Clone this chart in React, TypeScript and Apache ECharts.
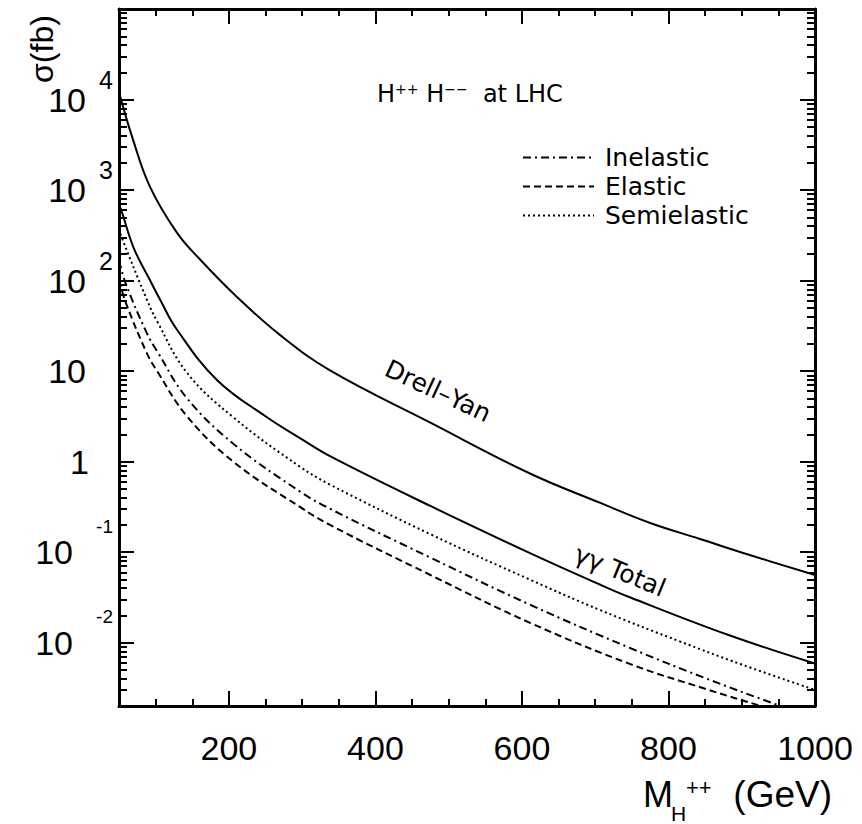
import React, { useEffect, useRef } from 'react';
import * as echarts from 'echarts';

// ---- data (sigma in fb vs M_H++ in GeV) ----
const drellYan: [number, number][] = [
  [50, 12000], [69, 3630], [92, 1100], [129, 339], [161, 170], [211, 66], [270, 25],
  [338, 10.2], [475, 2.7], [611, 0.74], [707, 0.35], [775, 0.21], [843, 0.14], [911, 0.093], [1000, 0.056],
];
const gammaTotal: [number, number][] = [
  [50, 700], [54, 570], [70, 230], [92, 102], [106, 61.7], [129, 28.8], [184, 7.94], [252, 3.09],
  [297, 1.82], [338, 1.15], [475, 0.324], [611, 0.0977], [707, 0.0437], [748, 0.0316], [884, 0.012], [1000, 0.00589],
];
const semielastic: [number, number][] = [
  [50, 372], [54, 295], [88, 61.7], [102, 35.5], [143, 9.55], [206, 3.09], [297, 0.879], [338, 0.558],
  [475, 0.158], [611, 0.0497], [707, 0.0229], [816, 0.0103], [900, 0.00574], [1000, 0.00301],
];
const inelastic: [number, number][] = [
  [50, 166], [60, 89], [88, 26.3], [102, 16.6], [143, 5.0], [206, 1.58], [297, 0.468], [338, 0.302],
  [475, 0.0871], [611, 0.0263], [748, 0.00871], [850, 0.00407], [950, 0.00204], [1000, 0.00148],
];
const elastic: [number, number][] = [
  [50, 100], [60, 55], [88, 15.8], [102, 10], [143, 3.16], [206, 1.0], [297, 0.316], [338, 0.2],
  [475, 0.056], [611, 0.0166], [748, 0.0058], [850, 0.0031], [930, 0.00196], [1000, 0.00135],
];

const legendNames = ['Inelastic', 'Elastic', 'Semielastic'];

// ---- axes ----
const xMin = 50;
const xMax = 1000;
const xMajorTicks = [200, 400, 600, 800, 1000];
const xMinorTicks = [100, 150, 250, 300, 350, 450, 500, 550, 650, 700, 750, 850, 900, 950];
const yMin = 0.002;
const yMax = 100000;
const yMajorTicks = [0.01, 0.1, 1, 10, 100, 1000, 10000];
const yTenLabelsPos = [10, 100, 1000, 10000];
const yOneLabel = [1];
const yTenLabelsNeg = [0.01, 0.1];
const yExpLabelsPos = [100, 1000, 10000];
const yExpLabelsNeg = [0.01, 0.1];
const yMinorMultipliers = [2, 3, 4, 5, 6, 7, 8, 9];
const yDecades = [-3, -2, -1, 0, 1, 2, 3, 4];

const AXIS_FONT = '"Liberation Sans", Arial, Helvetica, sans-serif';
const TEXT_FONT = '"DejaVu Sans", sans-serif';

export default function App() {
  const ref = useRef<HTMLDivElement>(null);

  useEffect(() => {
    if (!ref.current) return;
    const chart = echarts.init(ref.current, undefined, { renderer: 'svg' });

    const yMinorTicks: number[] = [];
    yDecades.forEach((d) => {
      yMinorMultipliers.forEach((m) => {
        const v = m * Math.pow(10, d);
        if (v > yMin && v < yMax) yMinorTicks.push(Number(v.toPrecision(3)));
      });
    });

    const frameLine = { show: true, onZero: false, lineStyle: { color: '#000', width: 3 } };
    const noLine = { show: false };

    const mkX = (position: 'top' | 'bottom', ticks: number[], len: number, line: boolean, labels: boolean) => ({
      type: 'value',
      min: xMin,
      max: xMax,
      position,
      axisLine: line ? frameLine : noLine,
      splitLine: { show: false },
      axisTick: { show: true, inside: true, length: len, customValues: ticks, lineStyle: { color: '#000', width: 2 } },
      axisLabel: labels
        ? {
            show: true,
            customValues: ticks,
            margin: 25,
            fontSize: 34,
            fontFamily: AXIS_FONT,
            color: '#000',
            formatter: (v: number) => String(v),
          }
        : { show: false },
    });

    const mkY = (position: 'left' | 'right', ticks: number[], len: number, line: boolean) => ({
      type: 'log',
      logBase: 10,
      min: yMin,
      max: yMax,
      position,
      axisLine: line ? frameLine : noLine,
      splitLine: { show: false },
      minorTick: { show: false },
      axisTick: len > 0
        ? { show: true, inside: true, length: len, customValues: ticks, lineStyle: { color: '#000', width: 2 } }
        : { show: false },
      axisLabel: { show: false },
    });

    // plain "10" / "1" labels
    const mkYBase = (values: number[], margin: number, text: string) => ({
      ...mkY('left', [], 0, false),
      axisLabel: {
        show: true,
        customValues: values,
        margin,
        fontSize: 34,
        fontFamily: AXIS_FONT,
        color: '#000',
        formatter: () => text,
      },
    });

    // raised exponent labels
    const mkYExp = (values: number[], margin: number, fontSize: number, padBottom: number) => ({
      ...mkY('left', [], 0, false),
      axisLabel: {
        show: true,
        customValues: values,
        margin,
        color: '#000',
        formatter: (v: number) => `{t|${Math.round(Math.log10(v))}}`,
        rich: {
          t: { fontSize, fontFamily: AXIS_FONT, color: '#000', lineHeight: fontSize, padding: [0, 0, padBottom, 0] },
        },
      },
    });

    const lineSeries = (name: string, data: [number, number][], type: any) => ({
      name,
      type: 'line',
      xAxisIndex: 0,
      yAxisIndex: 0,
      data,
      smooth: 0.4,
      symbol: 'none',
      showSymbol: false,
      clip: true,
      lineStyle: { color: '#000', width: 2, type },
      itemStyle: { color: '#000' },
    });

    chart.setOption({
      animation: false,
      backgroundColor: '#fff',
      grid: { left: 119, right: 47, top: 9, bottom: 118, containLabel: false },
      xAxis: [
        mkX('bottom', xMajorTicks, 15, true, true),
        mkX('bottom', xMinorTicks, 7, false, false),
        mkX('top', xMajorTicks, 15, true, false),
        mkX('top', xMinorTicks, 7, false, false),
      ],
      yAxis: [
        mkY('left', yMajorTicks, 15, true),
        mkY('left', yMinorTicks, 8, false),
        mkY('right', yMajorTicks, 15, true),
        mkY('right', yMinorTicks, 8, false),
        mkYBase(yTenLabelsPos, 33, '10'),
        mkYBase(yOneLabel, 30, '1'),
        mkYBase(yTenLabelsNeg, 46, '10'),
        mkYExp(yExpLabelsPos, 6, 25, 40),
        mkYExp(yExpLabelsNeg, 6, 19, 52),
      ],
      legend: {
        data: legendNames,
        orient: 'vertical',
        left: 522,
        top: 145,
        itemWidth: 71,
        itemHeight: 14,
        itemGap: 4,
        padding: 0,
        selectedMode: false,
        itemStyle: { opacity: 0, color: 'rgba(0,0,0,0)', borderColor: 'rgba(0,0,0,0)', borderWidth: 0 },
        textStyle: { fontFamily: TEXT_FONT, fontSize: 25, color: '#000', lineHeight: 25, padding: [0, 0, 0, 6] },
      },
      series: [
        lineSeries('Drell-Yan', drellYan, 'solid'),
        lineSeries('γγ Total', gammaTotal, 'solid'),
        lineSeries('Inelastic', inelastic, [8, 4, 2, 4]),
        lineSeries('Elastic', elastic, [7, 4]),
        lineSeries('Semielastic', semielastic, [2, 3]),
      ],
      graphic: [
        {
          type: 'text',
          x: 42,
          y: 49,
          rotation: Math.PI / 2,
          style: { text: 'σ(fb)', font: `32px ${AXIS_FONT}`, fill: '#000', align: 'center', verticalAlign: 'middle' },
        },
        {
          type: 'text',
          x: 643,
          y: 794,
          style: { text: 'M', font: `36px ${AXIS_FONT}`, fill: '#000', align: 'left', verticalAlign: 'middle' },
        },
        {
          type: 'text',
          x: 671,
          y: 813,
          style: { text: 'H', font: `21px ${AXIS_FONT}`, fill: '#000', align: 'left', verticalAlign: 'middle' },
        },
        {
          type: 'text',
          x: 686,
          y: 787,
          style: { text: '++', font: `22px ${AXIS_FONT}`, fill: '#000', align: 'left', verticalAlign: 'middle' },
        },
        {
          type: 'text',
          x: 832,
          y: 794,
          style: { text: '(GeV)', font: `37px ${AXIS_FONT}`, fill: '#000', align: 'right', verticalAlign: 'middle' },
        },
        {
          type: 'text',
          x: 377,
          y: 94,
          style: {
            text: '{m|H}{s|++}{m| H}{s|−−}{m|  at LHC}',
            align: 'left',
            verticalAlign: 'middle',
            rich: {
              m: { fontSize: 24, fontFamily: TEXT_FONT, fill: '#000', lineHeight: 24, verticalAlign: 'top' },
              s: { fontSize: 14, fontFamily: TEXT_FONT, fill: '#000', lineHeight: 14, verticalAlign: 'top' },
            },
          },
        },
        {
          type: 'text',
          x: 438,
          y: 391,
          rotation: -0.436,
          style: { text: 'Drell–Yan', font: `25px ${TEXT_FONT}`, fill: '#000', align: 'center', verticalAlign: 'middle' },
        },
        {
          type: 'text',
          x: 620,
          y: 571,
          rotation: -0.39,
          style: { text: 'γγ Total', font: `25px ${TEXT_FONT}`, fill: '#000', align: 'center', verticalAlign: 'middle' },
        },
      ],
    });

    return () => chart.dispose();
  }, []);

  return (
    <div
      ref={ref}
      style={{ position: 'absolute', left: 0, top: 0, width: 862, height: 824, background: '#fff' }}
    />
  );
}
